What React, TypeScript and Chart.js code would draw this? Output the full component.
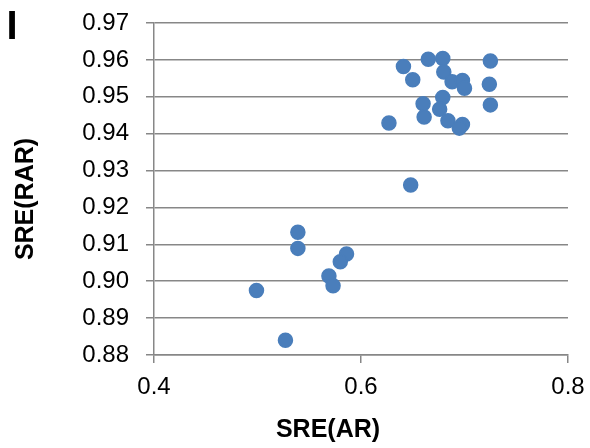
import React, { useEffect, useRef } from "react";
import { Chart, registerables } from "chart.js";

Chart.register(...registerables);

const panelLabel = "I";
const xTitle = "SRE(AR)";
const yTitle = "SRE(RAR)";

const xMin = 0.4;
const xMax = 0.8;
const xStep = 0.2;
const yMin = 0.88;
const yMax = 0.97;
const yStep = 0.01;

const xValues = [
  0.641, 0.65, 0.665, 0.679, 0.68, 0.688, 0.698, 0.7, 0.725, 0.724, 0.725,
  0.679, 0.66, 0.676, 0.661, 0.684, 0.698, 0.695, 0.627, 0.648, 0.499, 0.527,
  0.539, 0.539, 0.586, 0.58, 0.569, 0.573,
];
const yValues = [
  0.9582, 0.9546, 0.9602, 0.9604, 0.9567, 0.9541, 0.9544, 0.9523, 0.9597,
  0.9534, 0.9478, 0.9498, 0.9481, 0.9466, 0.9445, 0.9435, 0.9425, 0.9415,
  0.9429, 0.9261, 0.8975, 0.884, 0.9133, 0.9089, 0.9074, 0.9053, 0.9014,
  0.8988,
];

const FONT = '"Liberation Sans", Arial, sans-serif';
const GRID = "#878787";
const POINT = "#4a7ebb";

const labelsPlugin = {
  id: "labelsPlugin",
  afterDraw(chart: any) {
    const ctx = chart.ctx;
    ctx.save();
    ctx.fillStyle = "#000";
    ctx.textBaseline = "alphabetic";
    ctx.font = `bold 40px ${FONT}`;
    ctx.textAlign = "left";
    ctx.fillText(panelLabel, 6.5, 38.5);
    ctx.font = `bold 25px ${FONT}`;
    ctx.textAlign = "center";
    ctx.fillText(xTitle, 328, 436.5);
    ctx.translate(33, 199);
    ctx.rotate(-Math.PI / 2);
    ctx.fillText(yTitle, 0, 0);
    ctx.restore();
  },
};

export default function App() {
  const ref = useRef<HTMLCanvasElement>(null);
  useEffect(() => {
    if (!ref.current) return;
    const data = xValues.map((x, i) => ({ x, y: yValues[i] }));
    const chart = new Chart(ref.current, {
      type: "scatter",
      data: {
        datasets: [
          {
            data,
            backgroundColor: POINT,
            borderColor: POINT,
            borderWidth: 1.5,
            pointRadius: 7,
            pointHoverRadius: 7,
          },
        ],
      },
      options: {
        responsive: false,
        animation: false,
        events: [],
        layout: { padding: { left: 0, top: 23, right: 22, bottom: 0 } },
        plugins: {
          legend: { display: false },
          tooltip: { enabled: false },
        },
        scales: {
          x: {
            type: "linear",
            min: xMin,
            max: xMax,
            afterFit: (s: any) => {
              s.height = 93;
              s.paddingLeft = 0;
              s.paddingRight = 0;
            },
            ticks: {
              stepSize: xStep,
              padding: 10,
              color: "#000",
              font: { family: FONT, size: 24 },
              callback: (v: any) => Number(v).toFixed(1),
            },
            grid: {
              drawOnChartArea: false,
              drawTicks: true,
              tickLength: 8,
              color: GRID,
              lineWidth: 1.5,
            },
            border: { display: true, color: GRID, width: 1.5 },
          },
          y: {
            type: "linear",
            min: yMin,
            max: yMax,
            afterFit: (s: any) => {
              s.width = 154;
              s.paddingTop = 0;
              s.paddingBottom = 0;
            },
            ticks: {
              stepSize: yStep,
              padding: 17,
              color: "#000",
              font: { family: FONT, size: 24 },
              callback: (v: any) => Number(v).toFixed(2),
            },
            grid: {
              drawOnChartArea: true,
              drawTicks: true,
              tickLength: 8,
              color: GRID,
              lineWidth: 1.5,
            },
            border: { display: true, color: GRID, width: 1.5 },
          },
        },
      },
      plugins: [labelsPlugin],
    });
    return () => chart.destroy();
  }, []);
  return (
    <div
      style={{
        position: "absolute",
        left: 0,
        top: 0,
        width: 590,
        height: 448,
        background: "#fff",
      }}
    >
      <canvas
        ref={ref}
        width={590}
        height={448}
        style={{ width: 590, height: 448, display: "block" }}
      />
    </div>
  );
}
